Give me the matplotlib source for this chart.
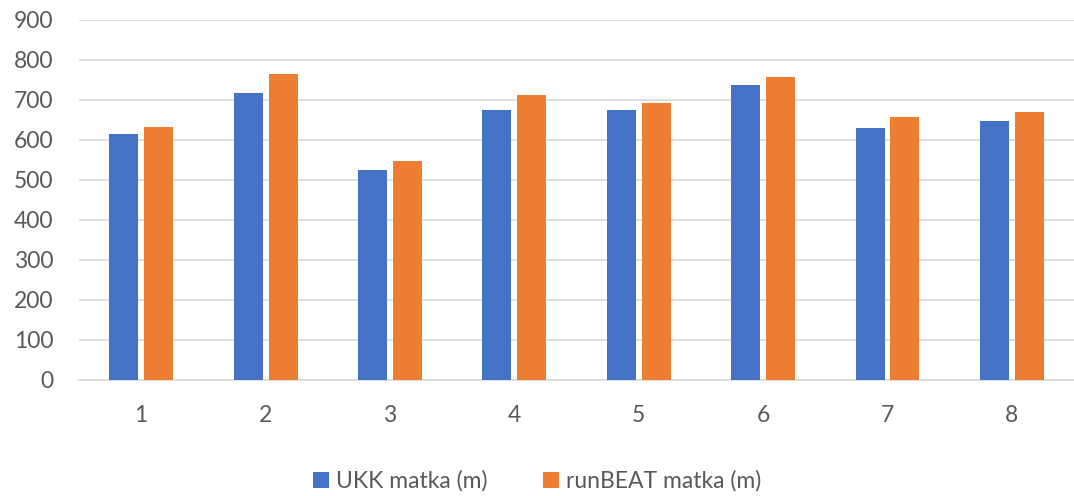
import matplotlib.pyplot as plt
import numpy as np

plt.rcParams['font.family'] = ['Lato', 'DejaVu Sans']

# data
kerrat = ['1', '2', '3', '4', '5', '6', '7', '8']
ukk = [615, 716, 524, 675, 675, 738, 629, 647]
runbeat = [633, 764, 546, 711, 693, 756, 657, 670]

sininen = '#4472C4'
oranssi = '#ED7D31'
harmaa = '#595959'

fig = plt.figure(figsize=(10.74, 4.96), dpi=100)
ax = fig.add_axes([0.0736, 0.234, 0.9264, 0.726])

x = np.arange(len(kerrat))
w = 0.233
ax.bar(x - 0.14, ukk, w, color=sininen, label='UKK matka (m)', zorder=3)
ax.bar(x + 0.14, runbeat, w, color=oranssi, label='runBEAT matka (m)', zorder=3)

ax.set_xlim(-0.5, len(kerrat) - 0.5)
ax.set_ylim(0, 900)
ax.set_yticks(range(0, 901, 100))
ax.set_xticks(x)
ax.set_xticklabels(kerrat)
ax.grid(axis='y', color='#d9d9d9', linewidth=1.2, zorder=0)
for s in ['top', 'right', 'left']:
    ax.spines[s].set_visible(False)
ax.spines['bottom'].set_color('#d9d9d9')
ax.spines['bottom'].set_linewidth(1.2)
ax.tick_params(axis='both', length=0, labelsize=16.5, labelcolor=harmaa)
ax.tick_params(axis='x', pad=18)
ax.tick_params(axis='y', pad=18.5)

fig.legend(loc='center', bbox_to_anchor=(0.5, 0.03), ncol=2, frameon=False,
           fontsize=16.5, labelcolor=harmaa, handlelength=0.7, handleheight=0.7,
           handletextpad=0.3, columnspacing=2.4)

plt.savefig('out.png')
